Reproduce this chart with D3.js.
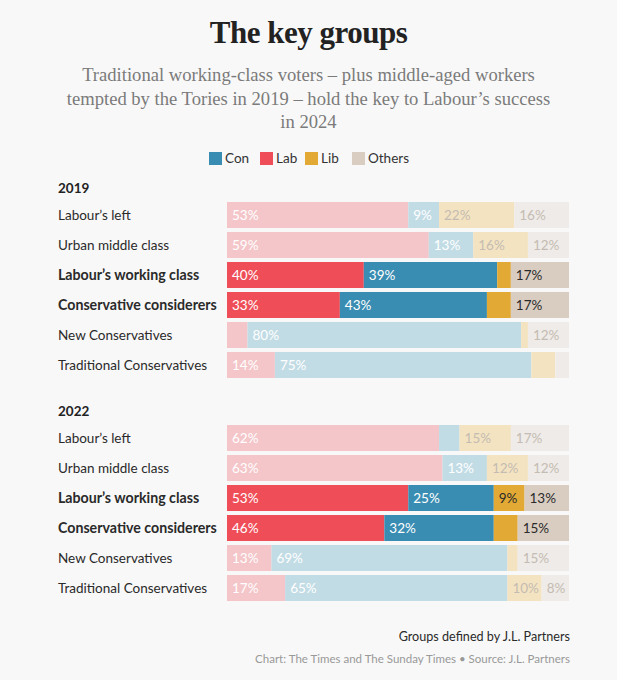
<!DOCTYPE html>
<html><head><meta charset="utf-8">
<script src="https://cdn.jsdelivr.net/npm/d3@7"></script>
<style>
html,body{margin:0;padding:0;background:#f8f8f8;}
svg{display:block;}
</style></head>
<body>
<script>
const parties = ["Con","Lab","Lib","Others"];
const stackOrder = ["Lab","Con","Lib","Others"];
const groups = ["Labour’s left","Urban middle class","Labour’s working class","Conservative considerers","New Conservatives","Traditional Conservatives"];
const highlighted = ["Labour’s working class","Conservative considerers"];
const years = ["2019","2022"];
const lab2019 = [53,59,40,33,6,14];
const con2019 = [9,13,39,43,80,75];
const lib2019 = [22,16,4,7,2,7];
const oth2019 = [16,12,17,17,12,4];
const lab2022 = [62,63,53,46,13,17];
const con2022 = [6,13,25,32,69,65];
const lib2022 = [15,12,9,7,3,10];
const oth2022 = [17,12,13,15,15,8];
const title = "The key groups";
const subtitle = ["Traditional working-class voters – plus middle-aged workers","tempted by the Tories in 2019 – hold the key to Labour’s success","in 2024"];
const note = "Groups defined by J.L. Partners";
const source = "Chart: The Times and The Sunday Times • Source: J.L. Partners";

const strong = {Con:"#3a8db2",Lab:"#ef4e58",Lib:"#e2a935",Others:"#d9cdc2"};
const faded = {Con:"#c2dce5",Lab:"#f4c6c9",Lib:"#f4e3c1",Others:"#efebe8"};
const txtStrong = {Con:"#ffffff",Lab:"#ffffff",Lib:"#2a2a2a",Others:"#2a2a2a"};
const txtFaded = {Con:"#ffffff",Lab:"#ffffff",Lib:"#c4bcb2",Others:"#c4bcb2"};

const W=617,H=680;
const svg=d3.select("body").append("svg").attr("width",W).attr("height",H);
svg.append("rect").attr("width",W).attr("height",H).attr("fill","#f8f8f8");

const sans="Lato, 'Open Sans', sans-serif";
const serif="'Liberation Serif', 'DejaVu Serif', serif";

svg.append("text").attr("x",W/2).attr("y",43).attr("text-anchor","middle")
  .attr("font-family",serif).attr("font-weight","bold").attr("font-size",31)
  .attr("fill","#222").attr("letter-spacing","-0.5").text(title);
subtitle.forEach((s,i)=>{
  svg.append("text").attr("x",W/2).attr("y",81+i*23.5).attr("text-anchor","middle")
    .attr("font-family",serif).attr("font-size",18.6).attr("fill","#7b7b7b").text(s);
});

// legend
const legendX=[209,260,305,352];
const lg=svg.append("g");
parties.forEach((p,i)=>{
  lg.append("rect").attr("x",legendX[i]).attr("y",152).attr("width",13).attr("height",13).attr("fill",strong[p]);
  lg.append("text").attr("x",legendX[i]+16).attr("y",163).attr("font-family",sans).attr("font-size",13.5).attr("fill","#333").text(p);
});

const x=d3.scaleLinear().domain([0,100]).range([227,569]);
const data={
  "2019":{Lab:lab2019,Con:con2019,Lib:lib2019,Others:oth2019},
  "2022":{Lab:lab2022,Con:con2022,Lib:lib2022,Others:oth2022}
};
const sectionTop={"2019":202,"2022":425};

years.forEach(yr=>{
  const top=sectionTop[yr];
  const y=d3.scaleBand().domain(groups).range([top,top+176]).paddingInner(4/30).paddingOuter(0);
  svg.append("text").attr("x",58).attr("y",top-9).attr("font-family",sans).attr("font-weight","bold")
    .attr("font-size",13.5).attr("fill","#222").text(yr);
  const rows=groups.map((g,i)=>{const o={group:g};stackOrder.forEach(p=>o[p]=data[yr][p][i]);return o;});
  const stack=d3.stack().keys(stackOrder)(rows);
  const g=svg.append("g");
  groups.forEach(gr=>{
    const hi=highlighted.includes(gr);
    g.append("text").attr("x",58).attr("y",y(gr)+y.bandwidth()/2+5)
      .attr("font-family",sans).attr("font-size",hi?14.2:13.5).attr("font-weight",hi?"bold":"normal")
      .attr("fill","#2a2a2a").text(gr);
  });
  stack.forEach(layer=>{
    const p=layer.key;
    layer.forEach(d=>{
      const gr=d.data.group, hi=highlighted.includes(gr);
      g.append("rect").attr("x",x(d[0])).attr("y",y(gr)).attr("width",x(d[1])-x(d[0])).attr("height",y.bandwidth())
        .attr("fill",hi?strong[p]:faded[p]);
      const v=d[1]-d[0];
      if(v>=8){
        g.append("text").attr("x",x(d[0])+5).attr("y",y(gr)+y.bandwidth()/2+5)
          .attr("font-family",sans).attr("font-size",13.5)
          .attr("fill",hi?txtStrong[p]:txtFaded[p]).text(v+"%");
      }
    });
  });
});

svg.append("text").attr("x",570).attr("y",641).attr("text-anchor","end").attr("font-family",sans)
  .attr("font-size",12.6).attr("fill","#2a2a2a").text(note);
svg.append("text").attr("x",570).attr("y",663).attr("text-anchor","end").attr("font-family",sans)
  .attr("font-size",11.5).attr("fill","#999").text(source);
</script>
</body></html>
